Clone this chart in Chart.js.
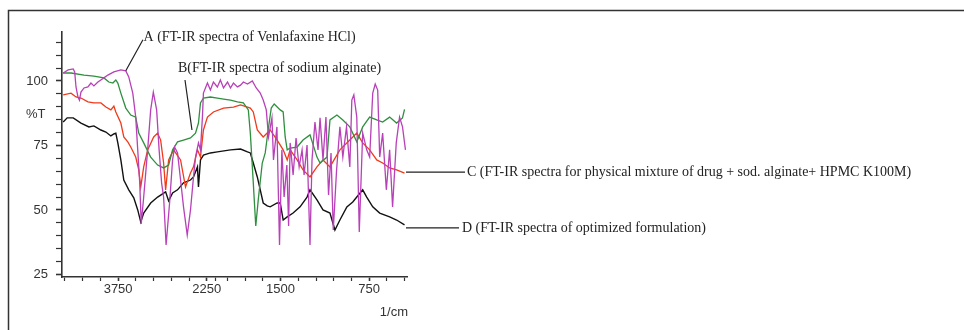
<!DOCTYPE html>
<html>
<head>
<meta charset="utf-8">
<script src="https://cdn.jsdelivr.net/npm/chart.js@4.4.0/dist/chart.umd.min.js"></script>
<style>
html, body { margin: 0; padding: 0; background: #fff; }
#wrap { width: 964px; height: 330px; }
</style>
</head>
<body>
<div id="wrap"><canvas id="irChart" width="964" height="330"></canvas></div>
<script>
// A - Venlafaxine HCl (magenta)
const aWn = [4680,4595,4510,4485,4463,4430,4405,4379,4328,4261,4210,4160,4092,4042,3991,3924,3822,3704,3620,3570,
  3502,3452,3418,3384,3359,3317,3250,3199,3154,3098,3056,3014,2980,2938,2879,2828,2794,2744,2693,2643,
  2580,2525,2474,2440,2390,2356,2323,2306,2238,2188,2137,2070,2019,1983,1949,1924,1899,1865,1839,1815,
  1780,1739,1706,1672,1647,1621,1602,1573,1560,1531,1509,1489,1470,1447,1432,1419,1394,1369,1343,1318,
  1301,1276,1251,1234,1209,1183,1166,1141,1116,1094,1073,1054,1026,998,973,942,914,897,880,855,
  834,805,771,746,720,699,678,661,636,605,577,552,521,493,468,443];
const aT = [103.1,104.3,104.7,103.5,97.7,93.8,92.6,95.7,97.3,97.7,99.2,98.1,99.6,100.4,101.2,102.3,103.5,104.3,103.9,101.6,
  95.3,86.0,73.3,60.5,44.6,55.0,73.3,88.8,95.7,88.8,73.3,60.5,55.0,36.4,52.7,69.4,74.4,72.1,61.6,51.2,
  40.3,50.0,62.8,70.5,76.0,73.3,86.0,95.3,99.2,96.5,99.6,97.7,100.4,97.3,99.6,97.3,99.2,97.7,98.4,99.6,
  98.8,100.0,97.3,95.3,92.6,88.8,78.3,85.7,69.4,82.2,36.4,73.3,55.0,67.4,43.8,76.0,63.6,77.9,66.7,73.3,
  63.6,75.2,36.4,69.4,84.1,73.3,85.7,69.4,86.0,55.8,72.1,42.2,65.5,82.2,70.5,82.2,66.7,92.6,94.6,86.0,
  41.5,79.8,73.3,70.5,95.3,98.8,96.5,70.5,79.8,57.8,73.3,51.2,76.0,86.0,82.2,73.3];

// B - sodium alginate (green)
const bWn = [4680,4547,4328,4160,3991,3907,3839,3789,3755,3704,3620,3536,3452,3401,3317,3199,3081,2980,2895,2828,
  2744,2643,2525,2440,2390,2356,2306,2188,2070,1983,1924,1865,1815,1773,1756,1731,1710,1689,1655,1630,
  1605,1579,1554,1503,1478,1461,1444,1419,1360,1310,1251,1192,1166,1107,1082,1023,973,914,855,805,
  746,686,636,577,518,468,451];
const bT = [103.1,103.1,102.3,101.9,101.2,99.6,99.2,100.4,99.2,95.3,89.5,86.8,86.0,79.8,76.0,70.5,67.4,66.3,67.4,73.3,
  76.4,77.1,77.9,79.8,83.7,91.5,93.4,93.8,93.4,93.0,92.6,91.9,91.5,88.8,79.8,60.5,43.8,53.9,68.2,72.1,
  81.0,89.5,91.1,88.8,88.0,78.3,73.3,74.0,74.4,77.1,79.1,70.5,68.2,70.5,84.9,86.8,84.9,82.2,76.4,82.2,
  86.0,84.9,84.1,86.0,83.7,85.7,89.0];

// C - physical mixture (red)
const cWn = [4680,4547,4463,4379,4261,4160,4042,3957,3873,3822,3789,3704,3654,3586,3536,3452,3401,3367,3317,3250,
  3148,3081,3030,2980,2946,2895,2811,2693,2609,2525,2474,2407,2356,2306,2238,2137,1983,1899,1839,1780,
  1756,1731,1697,1647,1588,1529,1478,1444,1419,1360,1310,1251,1192,1141,1082,998,914,855,805,746,
  686,636,577,518,451];
const cT = [94.6,95.3,93.8,93.4,91.9,91.5,91.5,89.9,88.8,90.3,88.0,83.7,78.3,76.4,74.4,70.5,65.5,58.9,66.7,73.3,
  78.3,79.8,77.1,68.2,57.8,69.4,73.3,69.4,58.9,64.3,66.7,73.3,70.5,81.0,86.0,88.0,89.5,89.9,90.7,89.9,
  89.5,88.0,81.0,78.3,81.0,77.1,73.3,69.4,73.3,69.4,65.5,62.8,66.7,69.4,66.7,73.3,77.1,79.8,76.0,73.3,
  69.4,68.2,66.3,65.5,64.3];

// D - optimized formulation (black)
const dWn = [4680,4612,4510,4379,4244,4160,4042,3957,3873,3822,3789,3755,3704,3654,3570,3485,3418,3367,3317,3199,
  3081,2946,2895,2828,2744,2643,2525,2474,2407,2390,2356,2306,2188,2070,1924,1839,1780,1756,1731,1697,
  1672,1647,1613,1588,1529,1503,1478,1444,1394,1335,1276,1251,1192,1141,1082,1040,998,939,889,855,
  805,771,720,661,577,518,451];
const dT = [84.1,85.7,85.7,83.7,82.2,82.6,81.0,80.2,78.7,79.5,79.8,76.0,69.4,61.6,57.8,54.7,50.0,45.3,48.8,52.7,
  55.0,57.0,53.5,56.6,57.8,60.5,61.6,62.8,66.7,58.9,69.4,71.3,72.1,72.5,73.3,73.6,72.5,72.1,68.2,62.8,
  57.8,52.7,51.6,51.2,52.7,52.7,46.1,47.3,48.8,51.2,55.0,57.8,53.9,50.0,48.8,42.2,46.1,51.2,53.1,55.0,
  57.8,55.0,51.2,48.8,47.3,46.1,44.2];

const xTicks = [4650,4350,4050,3750,3450,3150,2850,2550,2250,2100,1950,1800,1650,1500,1350,1200,1050,900,750,600,450];
const xLabels = [3750, 2250, 1500, 750];
const yTicks = [25,30,35,40,45,50,55,60,65,70,75,80,85,90,95,100,105,110,115];
const yLabels = [25, 50, 75, 100];

const noteA = 'A (FT-IR spectra of Venlafaxine HCl)';
const noteB = 'B(FT-IR spectra of sodium alginate)';
const noteC = 'C (FT-IR spectra for physical mixture of drug + sod. alginate+ HPMC K100M)';
const noteD = 'D (FT-IR spectra of optimized formulation)';

// the spectrometer plots 4000-2000 at half the scale of 2000-400
function toAxis(w) { return w <= 2000 ? w : 2000 + (w - 2000) / 2; }
function fromAxis(u) { return u <= 2000 ? u : 2000 + (u - 2000) * 2; }
function pts(wn, t) { return wn.map((w, i) => ({ x: toAxis(w), y: t[i] })); }

const frame = {
  id: 'frame',
  beforeDraw(chart) {
    const ctx = chart.ctx;
    ctx.save();
    ctx.fillStyle = '#fff';
    ctx.fillRect(0, 0, chart.width, chart.height);
    ctx.strokeStyle = '#333';
    ctx.lineWidth = 1.5;
    ctx.strokeRect(8.5, 10.5, chart.width + 20, chart.height + 20);
    ctx.restore();
  }
};

const notes = {
  id: 'notes',
  afterDraw(chart) {
    const ctx = chart.ctx, xs = chart.scales.x, ys = chart.scales.y;
    const px = w => xs.getPixelForValue(toAxis(w));
    const py = v => ys.getPixelForValue(v);
    const right = chart.chartArea.right;
    ctx.save();
    ctx.strokeStyle = '#222';
    ctx.fillStyle = '#222';
    ctx.lineWidth = 1.2;
    ctx.font = '14px "Liberation Serif", "Times New Roman", serif';
    ctx.textBaseline = 'middle';
    ctx.textAlign = 'left';

    ctx.beginPath();
    ctx.moveTo(px(3330), py(116));
    ctx.lineTo(px(3620), py(104));
    ctx.moveTo(px(2618), py(100.4));
    ctx.lineTo(px(2500), py(81));
    const cy = py(cT[cT.length - 1]) - 1;
    const dy = py(dT[dT.length - 1]) + 3;
    ctx.moveTo(right - 1, cy); ctx.lineTo(right + 58, cy);
    ctx.moveTo(right - 1, dy); ctx.lineTo(right + 52, dy);
    ctx.stroke();

    ctx.fillText(noteA, px(3320), py(117));
    ctx.fillText(noteB, px(2736), py(105));
    ctx.fillText(noteC, right + 60, cy);
    ctx.fillText(noteD, right + 55, dy);

    ctx.font = '13px "Liberation Sans", Arial, sans-serif';
    ctx.fillStyle = '#333';
    ctx.fillText('%T', 26, py(87));
    ctx.textAlign = 'right';
    ctx.fillText('1/cm', right + 1, 312);
    ctx.restore();
  }
};

const line = (label, data, color, w) => ({
  label, data, borderColor: color, borderWidth: w, pointRadius: 0, tension: 0, fill: false
});

new Chart(document.getElementById('irChart').getContext('2d'), {
  type: 'line',
  data: {
    datasets: [
      line('A', pts(aWn, aT), '#b840b8', 1.3),
      line('B', pts(bWn, bT), '#2f8f3f', 1.3),
      line('C', pts(cWn, cT), '#f03a1a', 1.3),
      line('D', pts(dWn, dT), '#111111', 1.4)
    ]
  },
  options: {
    responsive: false,
    animation: false,
    devicePixelRatio: 1,
    layout: { padding: { left: 0, right: 557, top: 32, bottom: 0 } },
    plugins: { legend: { display: false }, tooltip: { enabled: false }, title: { display: false } },
    scales: {
      x: {
        type: 'linear',
        reverse: true,
        min: toAxis(430),
        max: toAxis(4700),
        afterBuildTicks: s => { s.ticks = xTicks.map(w => ({ value: toAxis(w) })); },
        afterFit: s => { s.height = 53; },
        ticks: {
          autoSkip: false, maxRotation: 0, padding: 1, color: '#333',
          font: { family: '"Liberation Sans", Arial, sans-serif', size: 13 },
          callback: v => { const w = Math.round(fromAxis(v)); return xLabels.includes(w) ? String(w) : ''; }
        },
        grid: {
          drawOnChartArea: false, tickLength: 4, tickColor: '#333',
          tickWidth: c => xLabels.includes(Math.round(fromAxis(c.tick.value))) ? 1.6 : 1.2
        },
        border: { color: '#333', width: 1.6 }
      },
      y: {
        min: 24,
        max: 119,
        afterBuildTicks: s => { s.ticks = yTicks.map(v => ({ value: v })); },
        afterFit: s => { s.width = 62; },
        ticks: {
          autoSkip: false, padding: 8, color: '#333',
          font: { family: '"Liberation Sans", Arial, sans-serif', size: 13 },
          callback: v => yLabels.includes(v) ? String(v) : ''
        },
        grid: {
          drawOnChartArea: false, tickLength: 6, tickColor: '#333',
          tickWidth: c => yLabels.includes(c.tick.value) ? 1.6 : 1.2
        },
        border: { color: '#333', width: 1.6 }
      }
    }
  },
  plugins: [frame, notes]
});
</script>
</body>
</html>
